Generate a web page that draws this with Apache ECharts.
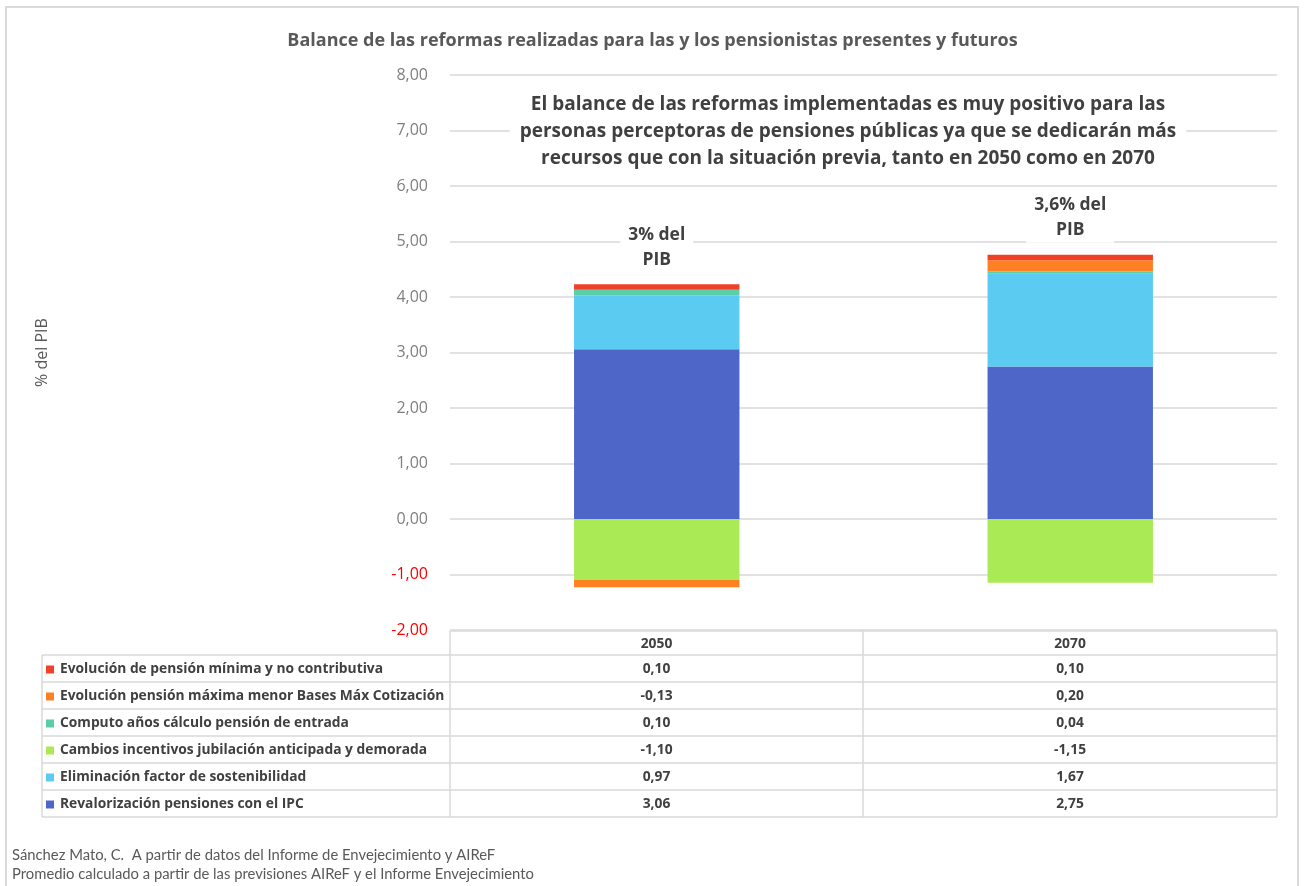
<!DOCTYPE html>
<html><head><meta charset="utf-8">
<script src="https://cdn.jsdelivr.net/npm/echarts@6/dist/echarts.min.js"></script>
<style>html,body{margin:0;padding:0;background:#fff}#c{width:1305px;height:886px}</style>
</head><body><div id="c"></div>
<script>
// ---- data ----
const categories = ['2050', '2070'];
const seriesNames = [
  'Revalorización pensiones con el IPC',
  'Eliminación factor de sostenibilidad',
  'Cambios incentivos jubilación anticipada y demorada',
  'Computo años cálculo pensión de entrada',
  'Evolución pensión máxima menor Bases Máx Cotización',
  'Evolución de pensión mínima y no contributiva'
];
const revalorizacion = [3.06, 2.75];
const eliminacion = [0.97, 1.67];
const cambios = [-1.10, -1.15];
const computo = [0.10, 0.04];
const maxima = [-0.13, 0.20];
const minima = [0.10, 0.10];
const annotations = ['3% del\nPIB', '3,6% del\nPIB'];
const yTicks = [-2, -1, 0, 1, 2, 3, 4, 5, 6, 7, 8];
const title = 'Balance de las reformas realizadas para las y los pensionistas presentes y futuros';
const subtitle = 'El balance de las reformas implementadas es muy positivo para las\npersonas perceptoras de pensiones públicas ya que se dedicarán más\nrecursos que con la situación previa, tanto en 2050 como en 2070';
const footer = ['Sánchez Mato, C.  A partir de datos del Informe de Envejecimiento y AIReF',
                'Promedio calculado a partir de las previsiones AIReF y el Informe Envejecimiento'];
const yName = '% del PIB';

// ---- style ----
const colors = ['#4D66C8', '#5BCBF2', '#AAEB55', '#5BCDA8', '#FF8022', '#EF4127'];
const values = [revalorizacion, eliminacion, cambios, computo, maxima, minima];
const FONT = '"Open Sans", Lato, sans-serif';
const FONT2 = 'Lato, "Open Sans", sans-serif';
const fmt = v => v.toFixed(2).replace('.', ',');

const chart = echarts.init(document.getElementById('c'));

const series = values.map((d, i) => ({
  name: seriesNames[i],
  type: 'bar',
  stack: 'total',
  barWidth: '40%',
  data: d,
  itemStyle: { color: colors[i] },
  label: i === values.length - 1 ? {
    show: true, position: 'top', distance: 12,
    formatter: p => annotations[p.dataIndex],
    color: '#404040', fontFamily: FONT, fontWeight: 'bold', fontSize: 17.5, lineHeight: 25,
    backgroundColor: '#fff', padding: [0, 8]
  } : { show: false }
}));

// ---- table (graphic) ----
const tblLeft = 42, colX = [450, 863, 1277], hdrTop = 631, hdrBot = 655, rowH = 27;
const lineColor = '#d9d9d9';
const g = [];
g.push({ type: 'rect', shape: { x: 6, y: 7, width: 1292, height: 900 }, style: { fill: 'none', stroke: '#d9d9d9', lineWidth: 2 }, silent: true });
const rowsOrder = [5, 4, 3, 2, 1, 0];
const tblBot = hdrBot + rowH * rowsOrder.length;
g.push({ type: 'line', shape: { x1: colX[0], y1: hdrTop, x2: colX[2], y2: hdrTop }, style: { stroke: lineColor, lineWidth: 1.5 } });
colX.forEach(x => g.push({ type: 'line', shape: { x1: x, y1: hdrTop, x2: x, y2: tblBot }, style: { stroke: lineColor, lineWidth: 1.5 } }));
g.push({ type: 'line', shape: { x1: tblLeft, y1: hdrBot, x2: tblLeft, y2: tblBot }, style: { stroke: lineColor, lineWidth: 1.5 } });
for (let r = 0; r <= rowsOrder.length; r++) {
  const y = hdrBot + r * rowH;
  g.push({ type: 'line', shape: { x1: tblLeft, y1: y, x2: colX[2], y2: y }, style: { stroke: lineColor, lineWidth: 1.5 } });
}
categories.forEach((c, j) => {
  g.push({ type: 'text', x: (colX[j] + colX[j + 1]) / 2, y: (hdrTop + hdrBot) / 2 + 1,
    style: { text: c, fill: '#404040', font: 'bold 13.8px ' + FONT, textAlign: 'center', textVerticalAlign: 'middle' } });
});
rowsOrder.forEach((si, r) => {
  const cy = hdrBot + r * rowH + rowH / 2 + 1;
  g.push({ type: 'rect', shape: { x: tblLeft + 4, y: cy - 4, width: 8, height: 8 }, style: { fill: colors[si] } });
  g.push({ type: 'text', x: tblLeft + 18, y: cy,
    style: { text: seriesNames[si], fill: '#404040', font: 'bold 13.8px ' + FONT, textVerticalAlign: 'middle' } });
  values[si].forEach((v, j) => {
    g.push({ type: 'text', x: (colX[j] + colX[j + 1]) / 2, y: cy,
      style: { text: fmt(v), fill: '#404040', font: 'bold 13.8px ' + FONT, textAlign: 'center', textVerticalAlign: 'middle' } });
  });
});
// subtitle
g.push({ type: 'text', z: 100, x: 848, y: 132, style: { text: subtitle, fill: '#404040', font: 'bold 19px ' + FONT, lineHeight: 27, textAlign: 'center', textVerticalAlign: 'middle', backgroundColor: '#fff', padding: [4, 10] } });
// footer
g.push({ type: 'text', x: 12, y: 855, style: { text: footer[0], fill: '#595959', font: '14.8px ' + FONT2, textVerticalAlign: 'middle' } });
g.push({ type: 'text', x: 12, y: 874, style: { text: footer[1], fill: '#595959', font: '14.8px ' + FONT2, textVerticalAlign: 'middle' } });

chart.setOption({
  animation: false,
  backgroundColor: '#fff',
  title: { text: title, left: 'center', top: 27, textStyle: { fontFamily: FONT, fontSize: 18, fontWeight: 'bold', color: '#595959' } },
  grid: { left: 450, right: 28, top: 75, bottom: 256 },
  xAxis: { type: 'category', data: categories, axisLine: { show: false }, axisTick: { show: false }, axisLabel: { show: false } },
  yAxis: {
    type: 'value', min: yTicks[0], max: yTicks[yTicks.length - 1], interval: 1,
    name: yName, nameLocation: 'middle', nameGap: 400, nameRotate: 90,
    nameTextStyle: { fontFamily: FONT, fontSize: 16, color: '#595959' },
    axisLine: { show: false }, axisTick: { show: false },
    axisLabel: { margin: 22, fontFamily: FONT, fontSize: 16, formatter: fmt, color: v => (v < 0 ? '#FF0000' : '#7f7f7f') },
    splitLine: { lineStyle: { color: '#d9d9d9', width: 1.5 } }
  },
  series: series,
  graphic: g
});
</script></body></html>
